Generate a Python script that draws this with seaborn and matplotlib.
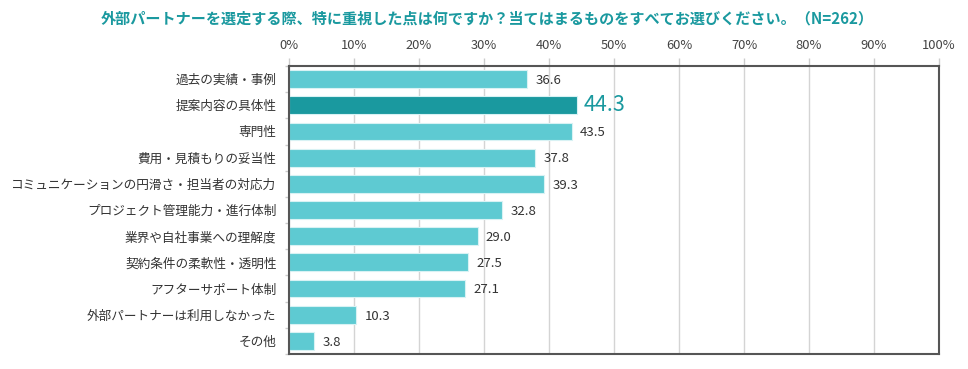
import matplotlib
matplotlib.use("Agg")
import matplotlib.pyplot as plt
import seaborn as sns
import pandas as pd
import numpy as np
from matplotlib.ticker import FixedLocator

categories = ["過去の実績・事例", "提案内容の具体性", "専門性", "費用・見積もりの妥当性",
              "コミュニケーションの円滑さ・担当者の対応力", "プロジェクト管理能力・進行体制",
              "業界や自社事業への理解度", "契約条件の柔軟性・透明性", "アフターサポート体制",
              "外部パートナーは利用しなかった", "その他"]
values = [36.6, 44.3, 43.5, 37.8, 39.3, 32.8, 29.0, 27.5, 27.1, 10.3, 3.8]
highlight = "提案内容の具体性"
xticks = [0, 10, 20, 30, 40, 50, 60, 70, 80, 90, 100]
title = "外部パートナーを選定する際、特に重視した点は何ですか？当てはまるものをすべてお選びください。（N=262）"

sns.set_theme(style="white")
plt.rcParams['font.family'] = ['Noto Sans CJK JP', 'DejaVu Sans']

LIGHT = "#5ecad2"
DARK = "#1a999f"

df = pd.DataFrame({"cat": categories, "val": values})
df["grp"] = np.where(df["cat"] == highlight, "hi", "lo")

fig = plt.figure(figsize=(9.68, 3.69), dpi=100)
ax = fig.add_axes([289/968, 1-354/369, (939-289)/968, (354-66)/369])

sns.barplot(data=df, y="cat", x="val", hue="grp", palette={"hi": DARK, "lo": LIGHT},
            order=categories, orient="h", width=0.68, legend=False, ax=ax,
            edgecolor="#d8f2f4", linewidth=0.8, dodge=False, saturation=1)

ax.set_xlim(0, 100)
ax.set_ylim(len(categories) - 0.5, -0.5)
ax.set_xlabel("")
ax.set_ylabel("")
ax.set_xticks(xticks)
ax.set_xticklabels([f"{t}%" for t in xticks])
ax.xaxis.tick_top()
ax.tick_params(axis="x", length=6, color="#cccccc", width=1, labelsize=9.3, labelcolor="#444444", pad=4)
ax.tick_params(axis="y", length=0, labelsize=9.1, labelcolor="#333333", pad=9)
ax.yaxis.set_minor_locator(FixedLocator(np.arange(-0.5, len(categories), 1.0)))
ax.tick_params(axis="y", which="minor", length=3, color="#cccccc", width=1, left=True)
ax.grid(axis="x", color="#d4d4d4", linewidth=1)
ax.set_axisbelow(True)
for s in ax.spines.values():
    s.set_color("#555555")
    s.set_linewidth(1.5)

for i, (c, v) in enumerate(zip(categories, values)):
    if c == highlight:
        ax.text(v + 1.0, i, f"{v:.1f}", va="center", ha="left", fontsize=15.5, color=DARK)
    else:
        ax.text(v + 1.3, i + 0.05, f"{v:.1f}", va="center", ha="left", fontsize=9.5, color="#333333")

fig.text(487/968, 1-18/369, title, ha="center", va="center", fontsize=10.9,
         fontweight="bold", color=DARK)

fig.savefig("out.png", dpi=100)
